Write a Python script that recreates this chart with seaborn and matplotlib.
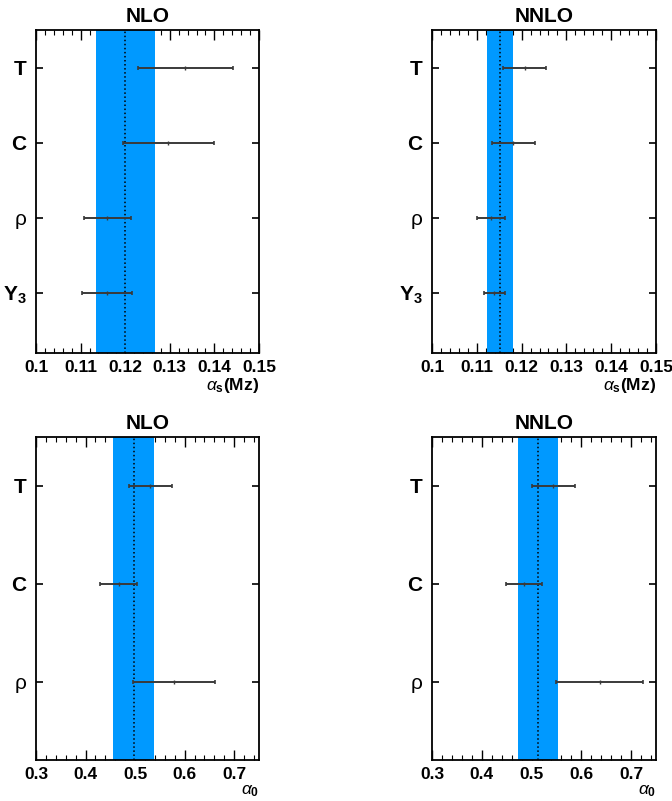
import matplotlib
matplotlib.use('Agg')
import matplotlib.pyplot as plt
import numpy as np
import pandas as pd
import seaborn as sns
from matplotlib.ticker import AutoMinorLocator, FormatStrFormatter, MultipleLocator

sns.set_theme(style='ticks')
plt.rcParams['font.family'] = ['Liberation Sans', 'DejaVu Sans']
plt.rcParams['mathtext.fontset'] = 'custom'
plt.rcParams['mathtext.rm'] = 'Liberation Sans'
plt.rcParams['mathtext.bf'] = 'Liberation Sans:bold'
plt.rcParams['mathtext.it'] = 'Liberation Sans:italic'
for key in ['text.color', 'axes.labelcolor', 'xtick.color', 'ytick.color', 'axes.edgecolor']:
    plt.rcParams[key] = 'black'

# 관측량 이름
obs_as = ['T', 'C', 'ρ', r'$\mathbf{Y}_{\mathbf{3}}$']
obs_a0 = ['T', 'C', 'ρ']

# alpha_s(Mz) 결과
nlo_as_val = [0.1335, 0.1297, 0.1160, 0.1160]
nlo_as_err = [0.0106, 0.0103, 0.0053, 0.0056]
nlo_as_avg, nlo_as_band = 0.1200, 0.0066

nnlo_as_val = [0.1207, 0.1181, 0.1132, 0.1139]
nnlo_as_err = [0.0048, 0.0048, 0.0031, 0.0023]
nnlo_as_avg, nnlo_as_band = 0.1152, 0.0029

# alpha_0 결과
nlo_a0_val = [0.531, 0.467, 0.579]
nlo_a0_err = [0.044, 0.037, 0.083]
nlo_a0_avg, nlo_a0_band = 0.497, 0.041

nnlo_a0_val = [0.544, 0.484, 0.637]
nnlo_a0_err = [0.043, 0.036, 0.087]
nnlo_a0_avg, nnlo_a0_band = 0.513, 0.040

band_color = '#0099ff'
bar_color = '#3a3a3a'


def draw_panel(ax, labels, vals, errs, avg, band, title, xlim, major, xlabel):
    df = pd.DataFrame({'obs': labels, 'val': vals, 'err': errs})
    df['y'] = np.arange(len(df), 0, -1)

    ax.axvspan(avg - band, avg + band, color=band_color, lw=0, zorder=1)
    ax.axvline(avg, color='black', ls=':', lw=1.1, zorder=2)
    ax.errorbar(df['val'], df['y'], xerr=df['err'], fmt='none', ecolor=bar_color,
                elinewidth=1.4, capsize=1.5, capthick=1.2, zorder=3)
    sns.scatterplot(data=df, x='val', y='y', marker='|', s=12, color=bar_color,
                    linewidth=1.0, ax=ax, zorder=4, legend=False)

    ax.set_xlim(*xlim)
    ax.set_ylim(0.2, len(df) + 0.5)
    ax.xaxis.set_major_locator(MultipleLocator(major))
    ax.xaxis.set_major_formatter(FormatStrFormatter('%g'))
    ax.xaxis.set_minor_locator(AutoMinorLocator(5))
    ax.set_yticks(df['y'], df['obs'])
    ax.tick_params(axis='both', which='both', direction='in', top=True, right=True)
    ax.tick_params(axis='x', which='major', length=7, width=1, labelsize=12.5, pad=5)
    ax.tick_params(axis='x', which='minor', length=3.5, width=0.8)
    ax.tick_params(axis='y', which='major', length=5, width=1.2, labelsize=15, pad=7)
    ax.tick_params(axis='y', which='minor', left=False, right=False)
    for lab in ax.get_xticklabels():
        lab.set_fontweight('bold')
    for lab in ax.get_yticklabels():
        lab.set_fontweight('normal' if lab.get_text() == 'ρ' else 'bold')

    ax.set_title(title, fontsize=15, fontweight='bold', pad=6)
    ax.set_xlabel(xlabel, loc='right', fontsize=12.5, labelpad=1)
    ax.set_ylabel('')
    for sp in ax.spines.values():
        sp.set_linewidth(1.3)
        sp.set_color('black')


fig = plt.figure(figsize=(6.72, 8.01), dpi=100)
ax1 = fig.add_axes([0.0536, 0.5593, 0.3318, 0.4032])
ax2 = fig.add_axes([0.6429, 0.5593, 0.3333, 0.4032])
ax3 = fig.add_axes([0.0536, 0.0512, 0.3318, 0.4032])
ax4 = fig.add_axes([0.6429, 0.0512, 0.3333, 0.4032])

xl_as = r'$\alpha_{\mathbf{s}}\mathbf{(Mz)}$'
xl_a0 = r'$\alpha_{\mathbf{0}}$'

draw_panel(ax1, obs_as, nlo_as_val, nlo_as_err, nlo_as_avg, nlo_as_band,
           'NLO', (0.1, 0.15), 0.01, xl_as)
draw_panel(ax2, obs_as, nnlo_as_val, nnlo_as_err, nnlo_as_avg, nnlo_as_band,
           'NNLO', (0.1, 0.15), 0.01, xl_as)
draw_panel(ax3, obs_a0, nlo_a0_val, nlo_a0_err, nlo_a0_avg, nlo_a0_band,
           'NLO', (0.3, 0.75), 0.1, xl_a0)
draw_panel(ax4, obs_a0, nnlo_a0_val, nnlo_a0_err, nnlo_a0_avg, nnlo_a0_band,
           'NNLO', (0.3, 0.75), 0.1, xl_a0)

fig.savefig('out.png', dpi=100)
